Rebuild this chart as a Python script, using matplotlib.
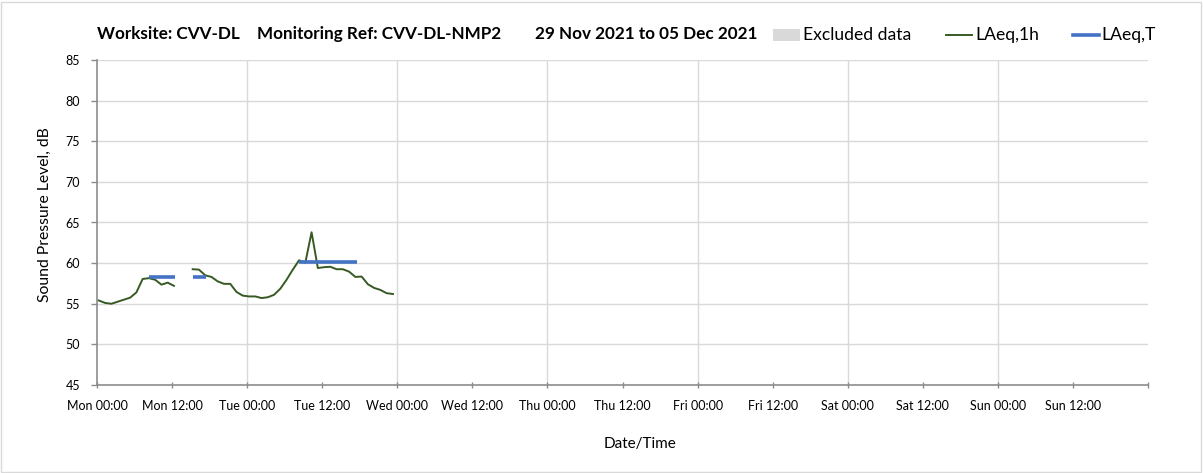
import numpy as np
import matplotlib
matplotlib.use("Agg")
import matplotlib.pyplot as plt
from matplotlib.lines import Line2D
from matplotlib.patches import Rectangle

plt.rcParams['font.family'] = ['Lato', 'DejaVu Sans']

# ---- data ----
start_offset_h = 0.3  # first hourly reading (hours after Mon 00:00)
laeq_1h = [55.4, 55.1, 55.0, 55.25, 55.5, 55.75, 56.4, 58.05, 58.15, 57.95, 57.35, 57.6, 57.2,
           None, None,
           59.25, 59.2, 58.5, 58.3, 57.75, 57.45, 57.45, 56.45, 56.0, 55.9, 55.9, 55.7, 55.8,
           56.1, 56.85, 57.95, 59.2, 60.35, 60.05, 63.8, 59.4, 59.5, 59.55, 59.25, 59.25,
           58.95, 58.3, 58.35, 57.4, 56.95, 56.7, 56.3, 56.2]
laeq_t_start = [8.3, 15.3, 32.3]
laeq_t_end = [12.5, 17.5, 41.6]
laeq_t_value = [58.25, 58.25, 60.15]
tick_labels = ["Mon 00:00", "Mon 12:00", "Tue 00:00", "Tue 12:00", "Wed 00:00", "Wed 12:00",
               "Thu 00:00", "Thu 12:00", "Fri 00:00", "Fri 12:00", "Sat 00:00", "Sat 12:00",
               "Sun 00:00", "Sun 12:00"]
y_ticks = [45, 50, 55, 60, 65, 70, 75, 80, 85]
title_parts = ["Worksite: CVV-DL", "Monitoring Ref: CVV-DL-NMP2", "29 Nov 2021 to 05 Dec 2021"]
legend_labels = ["Excluded data", "LAeq,1h", "LAeq,T"]

GREEN = '#375a23'
BLUE = '#4472c4'
GREY = '#d9d9d9'

W, H = 1203, 473
fig = plt.figure(figsize=(W / 100, H / 100), dpi=100)
fig.patches.append(Rectangle((1 / W, 1 / H), 1 - 3 / W, 1 - 3 / H, transform=fig.transFigure,
                             fill=False, edgecolor='#d9d9d9', linewidth=1))
ax = fig.add_axes([97 / W, 1 - 385 / H, (1148 - 97) / W, (385 - 60) / H])

hours = start_offset_h + np.arange(len(laeq_1h))
vals = np.array([np.nan if v is None else v for v in laeq_1h], dtype=float)
ax.plot(hours, vals, color=GREEN, linewidth=1.4, zorder=3)
ax.hlines(laeq_t_value, laeq_t_start, laeq_t_end, color=BLUE, linewidth=2.6, zorder=4)

ax.set_xlim(0, 168)
ax.set_ylim(45, 85)
ax.set_yticks(y_ticks)
ax.set_xticks(np.arange(0, 169, 12))
ax.set_xticklabels(tick_labels + [""])
ax.tick_params(axis='both', labelsize=9, color='#8c8c8c', length=4, width=1)
ax.tick_params(axis='y', pad=8)
ax.tick_params(axis='x', direction='inout', length=5, pad=8)
for v in np.arange(24, 168, 24):
    ax.axvline(v, color=GREY, linewidth=1, zorder=0)
for y in y_ticks[1:]:
    ax.axhline(y, color=GREY, linewidth=1, zorder=0)
for s in ['top', 'right']:
    ax.spines[s].set_visible(False)
for s in ['left', 'bottom']:
    ax.spines[s].set_color('#8c8c8c')
    ax.spines[s].set_linewidth(1.2)

fig.text(45 / W, 1 - 215 / H, "Sound Pressure Level, dB", fontsize=11.3, rotation=90,
         ha='center', va='center')
fig.text(640 / W, 1 - 444 / H, "Date/Time", fontsize=11, ha='center', va='center')

# title pieces
for x, txt in zip([97, 257, 535], title_parts):
    fig.text(x / W, 1 - 34 / H, txt, fontsize=12.3, fontweight='bold', ha='left', va='center')

# legend (drawn in figure pixel positions)
ly = 1 - 35 / H
fig.patches.append(Rectangle((773 / W, ly - 6 / H), 27 / W, 12 / H, transform=fig.transFigure,
                             facecolor=GREY, edgecolor='none'))
fig.add_artist(Line2D([946 / W, 972 / W], [ly, ly], transform=fig.transFigure,
                      color=GREEN, linewidth=1.4))
fig.add_artist(Line2D([1073 / W, 1099 / W], [ly, ly], transform=fig.transFigure,
                      color=BLUE, linewidth=2.6))
for x, txt in zip([803, 975, 1101], legend_labels):
    fig.text(x / W, ly, txt, fontsize=12.6, ha='left', va='center')

fig.savefig("out.png", dpi=100)
